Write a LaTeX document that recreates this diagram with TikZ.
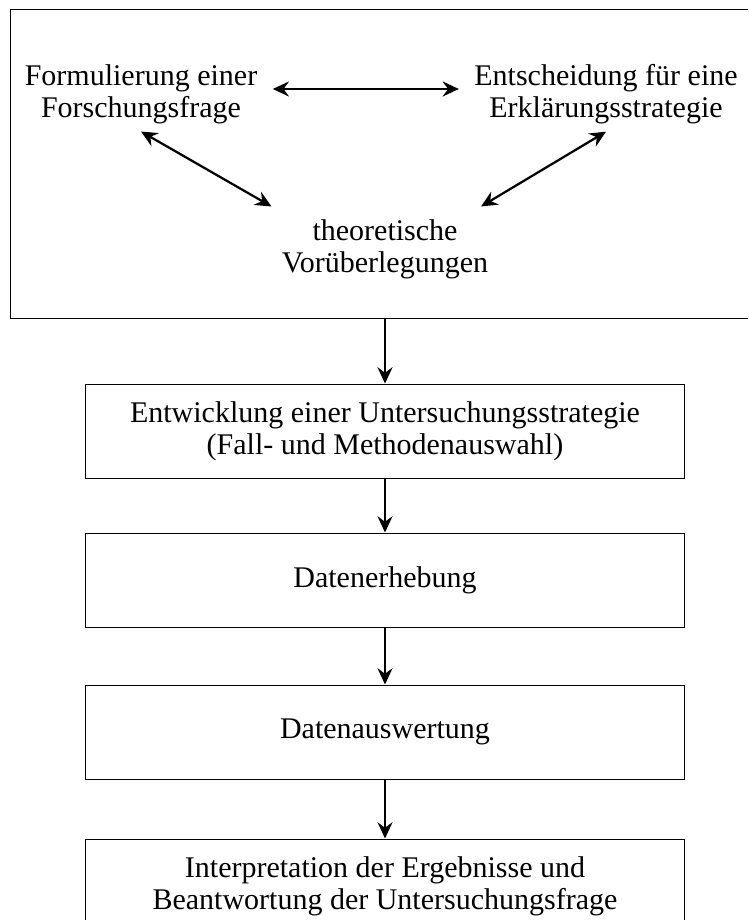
\documentclass[tikz,border=0pt]{standalone}
\usepackage{fontspec}
\setmainfont{Liberation Serif}
\usetikzlibrary{arrows.meta,positioning}

\begin{document}
\begin{tikzpicture}[x=0.4pt,y=-0.4pt,font=\fontsize{12}{12.7}\selectfont,
  >={Stealth[length=6.5pt,width=6pt,inset=2.2pt]},
  kb/.style={draw,thin,minimum width=239.2pt,minimum height=37.6pt,
             align=center,inner sep=2pt},
  tx/.style={align=center,inner sep=2pt},
  a/.style={->,line width=0.9pt},
  da/.style={<->,line width=0.9pt}]
\useasboundingbox (0,0) rectangle (748,920);
\clip (0,0) rectangle (748,920);
% oberer Rahmen
\node[draw,thin,minimum width=299.2pt,minimum height=123.2pt] (rahmen) at (385,164) {};
\node[tx] (links)  at (141,94)  {Formulierung einer\\Forschungsfrage};
\node[tx] (rechts) at (606,94)  {Entscheidung für eine\\Erklärungsstrategie};
\node[tx] (mitte)  at (385,249) {theoretische\\Vorüberlegungen};
\draw[da,shorten <=4pt,shorten >=4pt] ([yshift=2pt]links.east) -- ([yshift=2pt]rechts.west);
\draw[da] ([yshift=-1pt]links.south) -- ([xshift=-2pt,yshift=3pt]mitte.north west);
\draw[da] ([yshift=-1pt]rechts.south) -- ([xshift=-5pt,yshift=3pt]mitte.north east);
% Ablauf
\node[kb] (ent)    at (385,431) {Entwicklung einer Untersuchungsstrategie\\(Fall- und Methodenauswahl)};
\node[kb] (erh)    at (385,580) {Datenerhebung};
\node[kb] (ausw)   at (385,732) {Datenauswertung};
\node[kb] (interp) at (385,886) {Interpretation der Ergebnisse und\\Beantwortung der Untersuchungsfrage};
\foreach \a/\b in {rahmen/ent,ent/erh,erh/ausw,ausw/interp} \draw[a] (\a) -- (\b);
\end{tikzpicture}
\end{document}
